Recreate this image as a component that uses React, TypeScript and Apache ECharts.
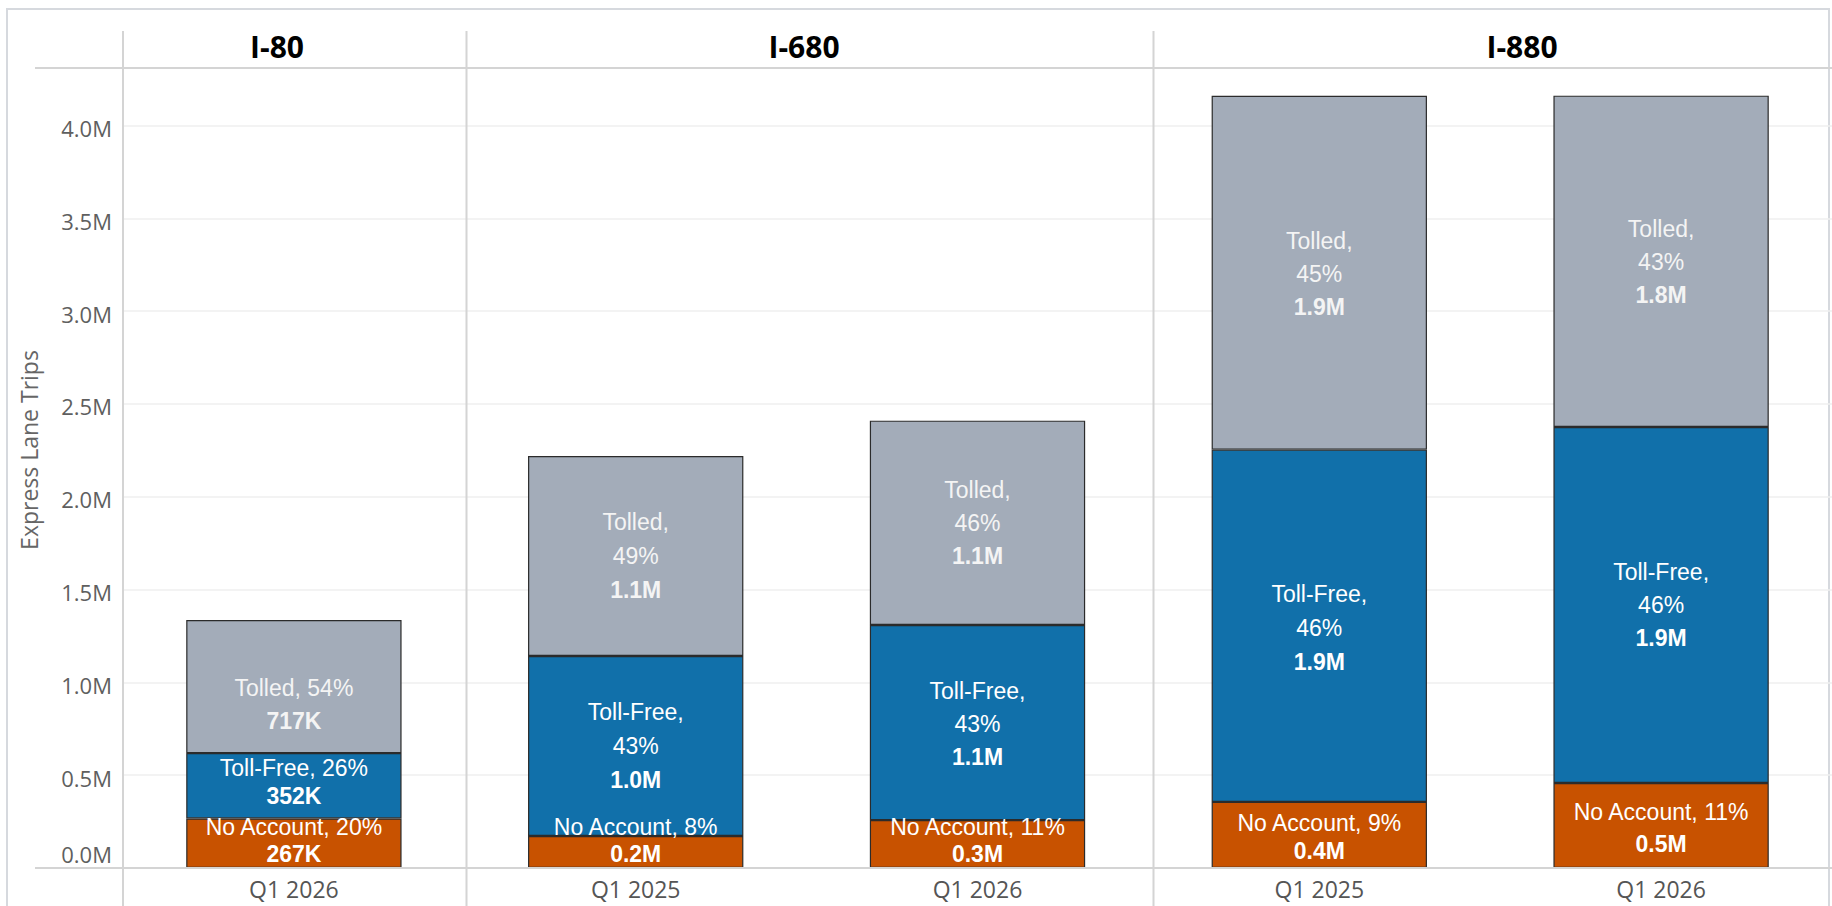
import React, { useEffect, useRef } from 'react';
import * as echarts from 'echarts';

// ---- data ----
const corridors = ['I-80', 'I-680', 'I-880'];
const barCorridor = ['I-80', 'I-680', 'I-680', 'I-880', 'I-880'];
const quarters = ['Q1 2026', 'Q1 2025', 'Q1 2026', 'Q1 2025', 'Q1 2026'];
const noAccount = [267000, 172000, 258000, 356000, 458000];
const tollFree = [352000, 970000, 1051000, 1898000, 1918000];
const tolled = [717000, 1078000, 1101000, 1906000, 1785000];
const noAccountPct = ['20%', '8%', '11%', '9%', '11%'];
const tollFreePct = ['26%', '43%', '43%', '46%', '46%'];
const tolledPct = ['54%', '49%', '46%', '45%', '43%'];
const yTickStep = 500000;
const yMax = 4310000;

// ---- layout (not data) ----
const W = 1832;
const H = 906;
const GRID_LEFT = 123;
const GRID_RIGHT = -8.5;
const GRID_TOP = 68;
const GRID_BOTTOM = 38;
const FONT = '"Open Sans", "Noto Sans", sans-serif';
const LABEL_FONT = '"Liberation Sans", Arial, sans-serif';
const wrapLabel = [false, true, true, true, true];
const tolledLH = [33, 34, 33, 33, 33];
const tolledOff = [18, 0, 0, 1, 1];
const tollFreeLH = [28, 34, 33, 34, 33];
const tollFreeOff = [-4, 0, 1, 2, 0];
const noAccountLH = [27, 27, 27, 28, 32];
const noAccountOff = [-3, -12, -4, 2, 3];
const headerX = [277, 804, 1522];

const fmtValue = (v: number, i: number) =>
  barCorridor[i] === 'I-80' ? `${Math.round(v / 1000)}K` : `${(v / 1e6).toFixed(1)}M`;

function buildData(
  values: number[],
  name: string,
  pcts: string[],
  lh: number[],
  off: number[],
  wrap: boolean[] | null,
  color: string
) {
  return values.map((v, i) => {
    const first = wrap && wrap[i] ? `{a|${name},}\n{a|${pcts[i]}}` : `{a|${name}, ${pcts[i]}}`;
    const text = `${first}\n{b|${fmtValue(v, i)}}`;
    return {
      value: v,
      label: {
        show: true,
        position: 'inside',
        offset: [0, off[i]],
        formatter: () => text,
        rich: {
          a: { fontFamily: LABEL_FONT, fontSize: 23, color, lineHeight: lh[i], align: 'center' },
          b: {
            fontFamily: LABEL_FONT,
            fontSize: 23,
            fontWeight: 'bold',
            color,
            lineHeight: lh[i],
            align: 'center',
          },
        },
      },
    };
  });
}

export default function App() {
  const ref = useRef<HTMLDivElement>(null);
  useEffect(() => {
    const chart = echarts.init(ref.current!, null, { renderer: 'svg' });
    const bandW = (W - GRID_LEFT - GRID_RIGHT) / quarters.length;
    const sepLines = [0, 1, 3].map((k) => GRID_LEFT + bandW * k);
    const lineColor = '#d4d4d4';

    const graphic: any[] = [
      {
        type: 'rect',
        shape: { x: 7, y: 9, width: 1822, height: 940 },
        style: { fill: 'none', stroke: '#d6d9de', lineWidth: 2 },
        z: 0,
      },
      {
        type: 'line',
        shape: { x1: 35, y1: GRID_TOP, x2: W, y2: GRID_TOP },
        style: { stroke: lineColor, lineWidth: 2 },
        z: 5,
      },
      {
        type: 'line',
        shape: { x1: 35, y1: H - GRID_BOTTOM, x2: W, y2: H - GRID_BOTTOM },
        style: { stroke: lineColor, lineWidth: 2 },
        z: 5,
      },
      ...sepLines.map((x) => ({
        type: 'line',
        shape: { x1: x, y1: 31, x2: x, y2: H },
        style: { stroke: lineColor, lineWidth: 2 },
        z: 5,
      })),
      ...corridors.map((c, i) => ({
        type: 'text',
        x: headerX[i],
        y: 46,
        style: {
          text: c,
          fontFamily: FONT,
          fontSize: 30,
          fontWeight: 'bold',
          fill: '#000',
          align: 'center',
          verticalAlign: 'middle',
        },
        z: 5,
      })),
      {
        type: 'text',
        x: 29,
        y: 450,
        rotation: Math.PI / 2,
        style: {
          text: 'Express Lane Trips',
          fontFamily: FONT,
          fontSize: 23,
          fill: '#666',
          align: 'center',
          verticalAlign: 'middle',
        },
        z: 5,
      },
    ];

    const seriesCommon = {
      type: 'bar',
      stack: 'total',
      barWidth: '63%',
      itemStyle: { borderColor: '#2b2b2b', borderWidth: 1.2 },
    };

    const tickFont = { fontFamily: FONT, fontSize: 22, color: '#5f5f5f' };

    chart.setOption({
      animation: false,
      backgroundColor: '#ffffff',
      grid: { left: GRID_LEFT, right: GRID_RIGHT, top: GRID_TOP, bottom: GRID_BOTTOM },
      xAxis: {
        type: 'category',
        data: quarters.map((q, i) => `${barCorridor[i]}|${q}`),
        axisLine: { show: false },
        axisTick: { show: false },
        axisLabel: {
          formatter: (v: string) => v.split('|')[1],
          fontFamily: FONT,
          fontSize: 23,
          color: '#555',
          margin: 9,
        },
        splitLine: { show: false },
      },
      yAxis: {
        type: 'value',
        min: 0,
        max: yMax,
        interval: yTickStep,
        axisLine: { show: false },
        axisTick: { show: false },
        axisLabel: {
          formatter: (v: number) => {
            if (v % yTickStep !== 0) return '';
            const t = `${(v / 1e6).toFixed(1)}M`;
            return v === 0 ? `{z|${t}}` : `{n|${t}}`;
          },
          margin: 11,
          ...tickFont,
          rich: {
            z: { ...tickFont, padding: [0, 0, 28, 0] },
            n: { ...tickFont, padding: [5, 0, 0, 0] },
          },
        },
        splitLine: { show: true, lineStyle: { color: '#efefef', width: 1.5 } },
      },
      graphic,
      series: [
        {
          ...seriesCommon,
          name: 'No Account',
          itemStyle: { ...seriesCommon.itemStyle, color: '#c85200' },
          data: buildData(noAccount, 'No Account', noAccountPct, noAccountLH, noAccountOff, null, '#ffffff'),
        },
        {
          ...seriesCommon,
          name: 'Toll-Free',
          itemStyle: { ...seriesCommon.itemStyle, color: '#1170aa' },
          data: buildData(tollFree, 'Toll-Free', tollFreePct, tollFreeLH, tollFreeOff, wrapLabel, '#ffffff'),
        },
        {
          ...seriesCommon,
          name: 'Tolled',
          itemStyle: { ...seriesCommon.itemStyle, color: '#a3acb9' },
          data: buildData(tolled, 'Tolled', tolledPct, tolledLH, tolledOff, wrapLabel, '#f4f4f4'),
        },
      ],
    });
    return () => chart.dispose();
  }, []);
  return (
    <div
      ref={ref}
      style={{ position: 'fixed', left: 0, top: 0, width: W, height: H, background: '#fff' }}
    />
  );
}
